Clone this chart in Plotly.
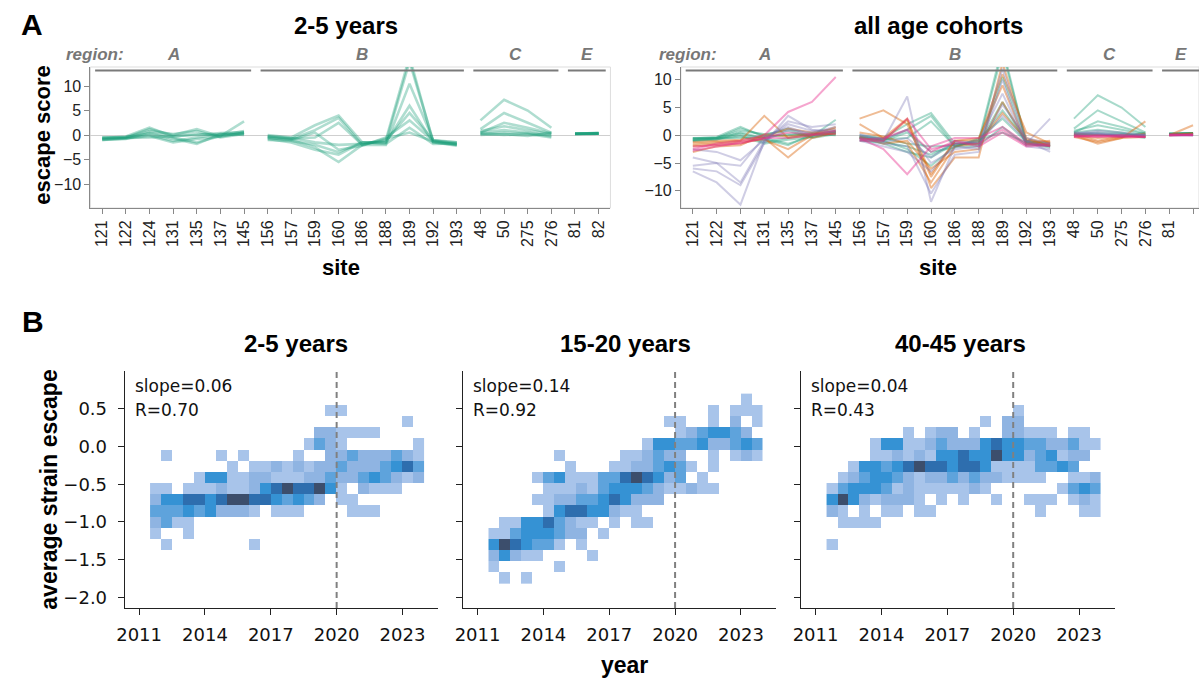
import plotly.graph_objects as go

W, H = 1199, 678

# ---------------- top row: escape score per site ----------------
SITES = ["121", "122", "124", "131", "135", "137", "145",
         "156", "157", "159", "160", "186", "188", "189", "192", "193",
         "48", "50", "275", "276", "81", "82"]
SITE_REGIONS = ["A", "A", "A", "A", "A", "A", "A",
                "B", "B", "B", "B", "B", "B", "B", "B", "B",
                "C", "C", "C", "C", "E", "E"]
REGION_NAMES = ["A", "B", "C", "E"]
Y_TICKS_TOP = [-10, -5, 0, 5, 10]

# sera from the 2-5 years cohort
SERA_2_5 = [
    [-0.5, -0.5, 1.2, 0.0, 1.2, -0.3, 0.5, 0.0, -0.5, 2.0, 4.0, -1.5, -1.5, 15.0, -1.2, -1.5, 3.0, 7.2, 5.0, 1.5, 0.3, 0.4],
    [-1.0, -0.8, 0.5, -0.5, -1.5, -0.2, 2.8, -0.5, -1.0, -2.5, -5.5, -2.0, -1.0, 16.0, -1.5, -2.0, 1.2, 4.5, 2.5, 0.5, 0.2, 0.3],
    [-0.8, -0.6, 0.0, -1.2, -0.5, 0.2, 0.3, -0.3, -0.8, 1.0, 3.5, -2.0, -2.0, 10.5, -1.0, -1.8, 0.5, 2.5, 1.5, 0.3, 0.3, 0.3],
    [-0.6, -0.3, 1.5, -0.3, 0.2, 0.0, 0.8, -0.8, -1.5, -3.0, -4.0, -1.5, -1.5, 6.0, -1.5, -2.2, 0.8, 1.8, 1.0, 0.2, 0.2, 0.4],
    [-1.0, -0.7, -0.2, -1.5, -0.8, -0.3, 0.5, -0.2, -0.6, -1.5, -2.0, -1.8, -1.2, 4.5, -1.0, -1.5, 0.2, 0.5, 0.3, 0.0, 0.3, 0.3],
    [-0.7, -0.5, 0.8, 0.2, 0.8, -0.5, 0.2, -0.6, -1.0, 0.5, -3.0, -2.2, -0.5, 3.0, -1.2, -2.0, 0.5, 1.0, 0.5, -0.3, 0.2, 0.3],
    [-0.5, -0.4, 0.3, -0.8, -1.8, 0.2, 0.0, -1.0, -1.2, -2.0, -3.5, -1.5, -1.8, 1.5, -1.8, -1.7, 0.0, 0.2, -0.2, 0.5, 0.3, 0.4],
    [-0.9, -0.6, -0.5, -0.3, 0.0, 0.4, 0.6, -0.4, -0.7, -0.5, 2.5, -2.0, -0.8, 0.5, -1.3, -1.9, 0.3, 0.0, 0.2, -0.5, 0.2, 0.3],
]
# sera from the other age cohorts
SERA_ORANGE = [
    [-1.5, -1.2, -1.0, 3.5, -0.5, 0.0, 0.8, 3.0, 4.5, 2.0, -7.5, -1.0, -0.5, 9.0, -1.5, -1.0, 0.0, -1.5, -0.5, 2.5, 0.0, 1.8],
    [-2.0, -1.8, -1.5, -0.5, -4.0, -0.5, 0.5, 2.0, -0.5, 3.0, -9.5, -4.0, -4.0, 13.0, -0.5, -2.0, 0.2, -1.0, -0.2, 0.0, 0.0, 0.3],
    [-1.2, -1.0, -0.8, -0.3, 1.2, 0.5, 1.2, -0.5, -1.0, 2.8, -7.0, -1.0, -1.0, 11.0, 0.5, -1.5, 0.3, 0.0, 0.0, -0.2, 0.1, 0.2],
    [-1.8, -1.5, -1.2, -0.8, -2.5, 0.0, 1.5, -0.2, -1.5, -1.0, -6.0, -3.0, -2.5, 6.0, -1.0, -1.8, -0.3, -1.2, -0.5, -0.3, 0.0, 0.1],
    [-3.0, -2.0, -1.8, 0.2, -0.2, 0.3, 0.2, 0.5, -0.2, -1.5, -8.5, -2.0, -1.5, 4.0, -0.8, -1.2, 0.0, -0.5, -0.3, 0.3, 0.2, 0.3],
]
SERA_PURPLE = [
    [-5.5, -5.0, -8.5, -1.0, 1.0, 0.5, 1.5, 0.0, -1.0, 7.0, -12.0, -2.0, -2.5, 12.0, -1.0, -3.0, 0.2, 0.5, 0.0, 0.0, 0.0, 0.0],
    [-6.0, -6.5, -9.0, -1.5, 3.5, 1.0, 0.5, -0.5, -1.5, -2.0, -10.5, -3.5, -3.0, 10.0, -2.0, -2.5, 0.0, 0.3, -0.2, 0.2, 0.0, 0.1],
    [-6.5, -8.5, -12.5, -1.0, 2.5, 1.5, 2.0, -1.0, -2.0, -3.0, -6.5, -1.5, -1.0, 7.5, -1.5, 3.0, 0.3, 0.8, 0.5, 0.0, 0.2, 0.0],
    [-2.5, -3.0, -4.5, -0.8, 2.0, 0.8, 1.0, 0.2, -0.8, 1.0, -5.0, -2.5, -2.0, 5.5, -0.5, -1.5, 0.5, 0.2, 0.0, -0.2, 0.0, 0.0],
    [-4.0, -5.0, -5.5, -0.3, 1.5, 0.0, 0.8, -0.3, -1.2, -0.5, -4.0, -1.0, -1.5, 3.5, -1.0, -2.0, 0.0, 0.0, 0.2, 0.0, 0.1, 0.2],
]
SERA_PINK = [
    [-2.5, -1.5, -1.0, 0.0, 4.2, 6.0, 10.5, -0.5, -2.5, -7.0, -2.0, -0.5, -0.5, 1.5, -1.5, -2.0, -0.2, 0.0, -0.2, -0.3, 0.0, 0.1],
    [-2.8, -2.0, -1.2, -0.5, 0.5, 0.2, 0.8, -1.0, -1.0, 3.0, -2.5, -1.5, -1.5, 1.0, -1.8, -1.5, 0.0, -0.2, 0.0, -0.3, 0.0, 0.0],
    [-2.0, -1.8, -1.5, -0.5, -0.5, 0.0, 0.3, -0.8, -0.5, 1.0, -3.0, -1.0, -2.0, 0.5, -2.0, -1.8, -0.3, -0.2, -0.3, -0.2, 0.1, 0.1],
]

# ---------------- bottom row: 2D histograms of strain escape by year ----------------
YEAR_BIN_START = 2011.5
YEAR_BIN_WIDTH = 0.5
ESCAPE_BIN_TOP = 0.70
ESCAPE_BIN_HEIGHT = 0.1478
YEAR_TICKS = [2011, 2014, 2017, 2020, 2023]
ESCAPE_TICKS = [0.5, 0.0, -0.5, -1.0, -1.5, -2.0]

# counts per (escape bin, year bin); rows run from the top escape bin downward
COUNTS_2_5 = [
    "0000000000000000000000000",
    "0000000000000000110000000",
    "0000000000000000000000010",
    "0000000000000002211110000",
    "0000000000000013210000001",
    "0100001010000100223222321",
    "0000000101121212232223453",
    "0000144112211122322343212",
    "1101112112456556410211100",
    "2445545665543432011000000",
    "3334342221011100001110000",
    "2311000000000000000000000",
    "1001000000000000000000000",
    "0100000001000000000000000",
    "0000000000000000000000000",
    "0000000000000000000000000",
    "0000000000000000000000000",
]
COUNTS_15_20 = [
    "0000000000000000000000010",
    "0000000000000000000010111",
    "0000000000000000110010201",
    "0000000000000000012344320",
    "0000000000000014433422343",
    "0000001000001123220010121",
    "0000000100011223431010000",
    "0000134111335654230100000",
    "0000011121344432112110000",
    "0000112233454222000000000",
    "0000014554421100000000000",
    "0114453211010110000000000",
    "1134443220100000000000000",
    "4654331010000000000000000",
    "2421100001000000000000000",
    "1000001000000000000000000",
    "0101000000000000000000000",
]
COUNTS_40_45 = [
    "0000000000000000000000000",
    "0000000000000000010000000",
    "0000000000000010220000000",
    "0000000101220100221110110",
    "0000144112322245443322311",
    "0000112121445446442341220",
    "0014434565545541111334300",
    "0123443212232322111100112",
    "1344431211111210000001343",
    "4642122210101001001110121",
    "2101011011000000000100011",
    "0111100000000000000000000",
    "0000000000000000000000000",
    "1000000000000000000000000",
    "0000000000000000000000000",
    "0000000000000000000000000",
    "0000000000000000000000000",
]
PANEL_TITLES = ["2-5 years", "15-20 years", "40-45 years"]
SLOPES = [0.06, 0.14, 0.04]
R_VALUES = [0.70, 0.92, 0.43]

TEAL, ORANGE, PURPLE, PINK = "27,158,119", "217,95,2", "117,112,179", "231,41,138"
FONT = "Liberation Sans"
MPL_FONT = "DejaVu Sans"


def px(x):
    return x / W


def py(y):
    return 1 - y / H


def site_path(values):
    xs, ys = [], []
    for i, v in enumerate(values):
        if i > 0 and SITE_REGIONS[i] != SITE_REGIONS[i - 1]:
            xs.append(None)
            ys.append(None)
        xs.append(i)
        ys.append(v)
    return xs, ys


fig = go.Figure()


# escape-score lines
def add_lines(sera, rgb, alpha, width, xa, ya):
    for s in sera:
        xs, ys = site_path(s)
        fig.add_trace(go.Scatter(
            x=xs, y=ys, mode="lines", xaxis=xa, yaxis=ya,
            line=dict(color=f"rgba({rgb},{alpha})", width=width),
            hoverinfo="skip", showlegend=False, connectgaps=False))


add_lines(SERA_2_5, TEAL, 0.35, 2.6, "x", "y")
add_lines(SERA_2_5, TEAL, 0.38, 2.0, "x2", "y2")
add_lines(SERA_ORANGE, ORANGE, 0.42, 2.0, "x2", "y2")
add_lines(SERA_PURPLE, PURPLE, 0.35, 2.0, "x2", "y2")
add_lines(SERA_PINK, PINK, 0.42, 2.0, "x2", "y2")

# 2D histograms
HEAT_SCALE = [[0.0, "#a8c4ea"], [0.2, "#8fb4e2"], [0.4, "#5ea3dc"],
              [0.6, "#3592d4"], [0.8, "#2e6eae"], [1.0, "#3c4e6c"]]
n_year_bins = len(COUNTS_2_5[0])
year_centers = [YEAR_BIN_START + YEAR_BIN_WIDTH * (i + 0.5) for i in range(n_year_bins)]
for k, counts in enumerate([COUNTS_2_5, COUNTS_15_20, COUNTS_40_45]):
    rows = list(reversed(counts))
    n = len(rows)
    esc_centers = [ESCAPE_BIN_TOP - ESCAPE_BIN_HEIGHT * (n - 1 - r + 0.5) for r in range(n)]
    z = [[(int(c) if c != "0" else None) for c in row] for row in rows]
    fig.add_trace(go.Heatmap(
        x=year_centers, y=esc_centers, z=z, zmin=1, zmax=6,
        colorscale=HEAT_SCALE, showscale=False, hoverinfo="skip",
        xaxis=f"x{k + 3}", yaxis=f"y{k + 3}"))

# ---------------- axes ----------------
TOP_Y = [py(208), py(67)]
BOT_Y = [py(608), py(371)]
top_tick_font = dict(family=FONT, size=16, color="#222")
top_x = dict(range=[-0.5, 21.5], tickmode="array", tickvals=list(range(len(SITES))),
             ticktext=SITES, tickangle=-90, ticks="outside", ticklen=5,
             tickcolor="#888", showline=True, linecolor="#888", linewidth=1,
             showgrid=False, zeroline=False, tickfont=top_tick_font)
top_y = dict(tickmode="array", tickvals=Y_TICKS_TOP, ticks="outside", ticklen=5,
             tickcolor="#888", showline=True, linecolor="#888", linewidth=1,
             showgrid=False, zeroline=True, zerolinecolor="#cfcfcf", zerolinewidth=1,
             tickfont=top_tick_font)

layout = dict(
    width=W, height=H, margin=dict(l=0, r=0, t=0, b=0),
    paper_bgcolor="white", plot_bgcolor="white", showlegend=False,
    xaxis=dict(top_x, domain=[px(82), px(606)], anchor="y"),
    yaxis=dict(top_y, domain=TOP_Y, range=[-14.9, 13.9], anchor="x"),
    xaxis2=dict(top_x, domain=[px(677), 1.0], range=[-0.5, 21.25], anchor="y2"),
    yaxis2=dict(top_y, domain=TOP_Y, range=[-13.1, 12.3], anchor="x2"),
)

BOT_X_DOMAINS = [[116.7, 432.3], [457.7, 773.3], [798.3, 1114.0]]
esc_ticktext = [f"{v:.1f}".replace("-", "\u2212") for v in ESCAPE_TICKS]
for k, (x0, x1) in enumerate(BOT_X_DOMAINS):
    i = k + 3
    layout[f"xaxis{i}"] = dict(
        domain=[px(x0), px(x1)], range=[2010.35, 2024.62], anchor=f"y{i}",
        tickmode="array", tickvals=YEAR_TICKS, ticks="outside", ticklen=6,
        tickwidth=1.2, tickcolor="#222", showline=True, linecolor="#222",
        linewidth=1.3, showgrid=False, zeroline=False, ticklabelstandoff=4,
        tickfont=dict(family=MPL_FONT, size=18, color="#111"))
    layout[f"yaxis{i}"] = dict(
        domain=BOT_Y, range=[-2.14, 1.0], anchor=f"x{i}",
        tickmode="array", tickvals=ESCAPE_TICKS, ticktext=esc_ticktext,
        showticklabels=(k == 0), ticks="outside", ticklen=6, tickwidth=1.2,
        tickcolor="#222", showline=True, linecolor="#222", linewidth=1.3,
        showgrid=False, zeroline=False, ticklabelstandoff=7,
        tickfont=dict(family=MPL_FONT, size=18, color="#111"))

shapes = []
annotations = []

# light frame around the top panels
for xa, ya in [("x", "y"), ("x2", "y2")]:
    shapes.append(dict(type="rect", xref=f"{xa} domain", yref=f"{ya} domain",
                       x0=0, x1=1, y0=0, y1=1, layer="below",
                       line=dict(color="#dddddd", width=1)))

# region brackets above the top panels
for xa, label_x in [("x", 118), ("x2", 715)]:
    annotations.append(dict(text="<b><i>region:</i></b>", xref="paper", yref="paper",
                            x=px(label_x), y=py(55), xanchor="right", yanchor="middle",
                            showarrow=False, font=dict(family=FONT, size=17, color="#777")))
    for name in REGION_NAMES:
        idx = [i for i, r in enumerate(SITE_REGIONS) if r == name]
        first, last = idx[0], idx[-1]
        shapes.append(dict(type="line", xref=xa, yref="paper",
                           x0=first - 0.3, x1=last + 0.3, y0=py(70.5), y1=py(70.5),
                           line=dict(color="#7a7a7a", width=2)))
        annotations.append(dict(text=f"<b><i>{name}</i></b>", xref=xa, yref="paper",
                                x=(first + last) / 2, y=py(55), xanchor="center",
                                yanchor="middle", showarrow=False,
                                font=dict(family=FONT, size=17, color="#777")))

# 2020 reference line
for k in range(3):
    i = k + 3
    shapes.append(dict(type="line", xref=f"x{i}", yref=f"y{i} domain",
                       x0=2020, x1=2020, y0=0, y1=1,
                       line=dict(color="#808080", width=2, dash="6px,4px")))


def text(t, x, y, size, bold=False, family=FONT, angle=0, xanchor="center", color="#000"):
    annotations.append(dict(text=f"<b>{t}</b>" if bold else t, xref="paper", yref="paper",
                            x=px(x), y=py(y), xanchor=xanchor, yanchor="middle",
                            textangle=angle, showarrow=False,
                            font=dict(family=family, size=size, color=color)))


text("A", 23, 24, 30, bold=True)
text("B", 24, 321, 30, bold=True)
text("2-5 years", 340, 26, 24, bold=True)
text("all age cohorts", 937, 26, 24, bold=True)
text("escape score", 34, 135, 22, bold=True, angle=-90)
text("site", 335, 267, 22, bold=True)
text("site", 936, 267, 22, bold=True)

title_x = [289, 621, 959]
for k, (x0, x1) in enumerate(BOT_X_DOMAINS):
    text(PANEL_TITLES[k], title_x[k], 343, 24, bold=True)
    text(f"slope={SLOPES[k]:.2f}", x0 + 8, 386, 17, family=MPL_FONT, xanchor="left", color="#111")
    text(f"R={R_VALUES[k]:.2f}", x0 + 8, 410, 17, family=MPL_FONT, xanchor="left", color="#111")
text("average strain escape", 40, 490, 23, bold=True, angle=-90)
text("year", 620, 665, 23, bold=True)

layout["shapes"] = shapes
layout["annotations"] = annotations
fig.update_layout(**layout)
fig.write_html("out.html")
